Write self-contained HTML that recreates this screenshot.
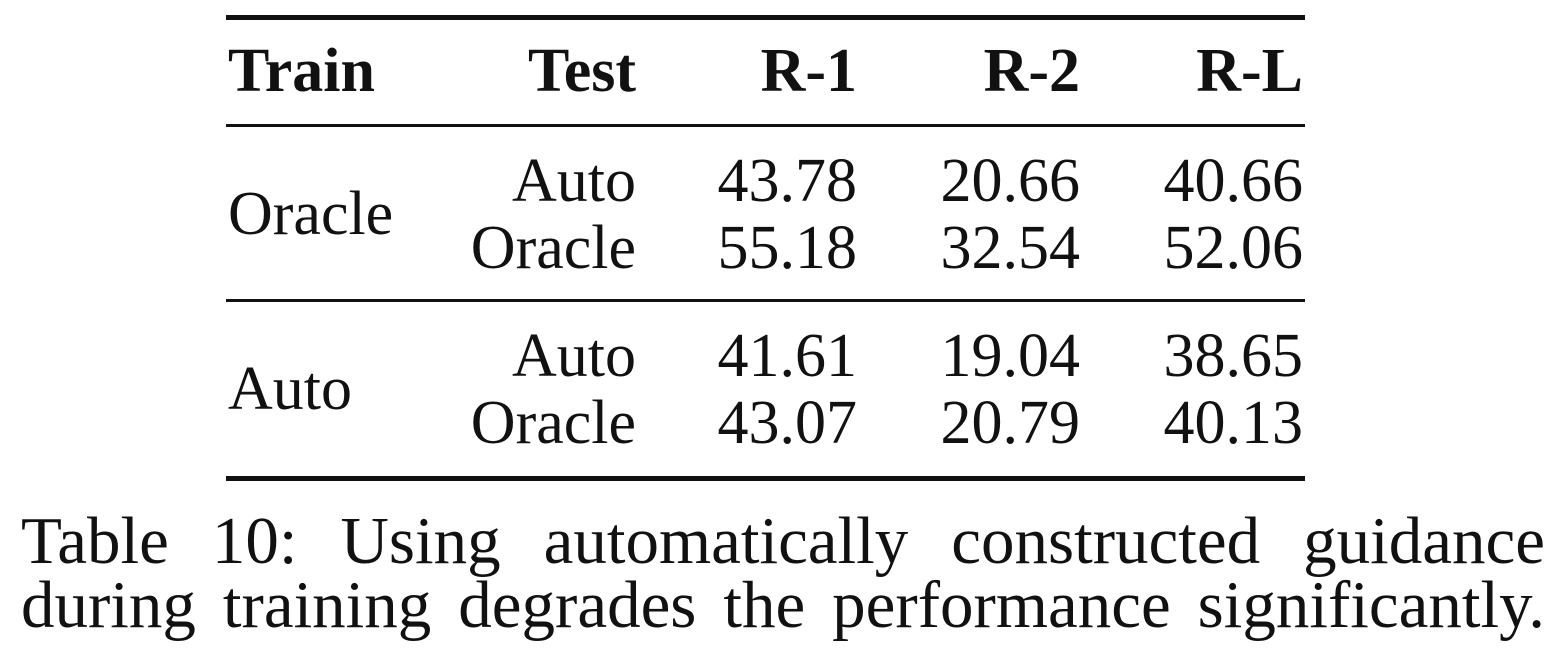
<!DOCTYPE html>
<html>
<head>
<meta charset="utf-8">
<style>
  html,body{margin:0;padding:0;background:#fff;}
  body{position:relative;width:1564px;height:668px;overflow:hidden;}
  svg{display:block;position:absolute;left:0;top:0;}
  text{font-family:"Liberation Serif","Times New Roman",serif;fill:#111;}
  .h{font-weight:bold;font-size:62px;}
  .c{font-size:62px;}
  .cap{position:absolute;left:21px;width:1524px;font-family:"Liberation Serif","Times New Roman",serif;font-size:67px;color:#111;white-space:nowrap;text-align:justify;text-align-last:justify;line-height:1;}
</style>
</head>
<body>
<svg width="1564" height="668" viewBox="0 0 1564 668">
  <rect x="226" y="15" width="1079" height="5" fill="#111"/>
  <rect x="226" y="124" width="1079" height="3" fill="#111"/>
  <rect x="226" y="299" width="1079" height="3" fill="#111"/>
  <rect x="226" y="476" width="1079" height="5" fill="#111"/>

  <g>
    <text class="h" x="228" y="91">Train</text>
    <text class="h" x="636" y="91" text-anchor="end">Test</text>
    <text class="h" x="857" y="91" text-anchor="end">R-1</text>
    <text class="h" x="1080" y="91" text-anchor="end">R-2</text>
    <text class="h" x="1303" y="91" text-anchor="end">R-L</text>
  </g>

  <text class="c" x="228" y="234">Oracle</text>
  <g>
    <text class="c" x="636" y="201" text-anchor="end">Auto</text>
    <text class="c" x="857" y="201" text-anchor="end">43.78</text>
    <text class="c" x="1080" y="201" text-anchor="end">20.66</text>
    <text class="c" x="1303" y="201" text-anchor="end">40.66</text>
  </g>
  <g>
    <text class="c" x="636" y="268" text-anchor="end">Oracle</text>
    <text class="c" x="857" y="268" text-anchor="end">55.18</text>
    <text class="c" x="1080" y="268" text-anchor="end">32.54</text>
    <text class="c" x="1303" y="268" text-anchor="end">52.06</text>
  </g>

  <text class="c" x="228" y="409">Auto</text>
  <g>
    <text class="c" x="636" y="376" text-anchor="end">Auto</text>
    <text class="c" x="857" y="376" text-anchor="end">41.61</text>
    <text class="c" x="1080" y="376" text-anchor="end">19.04</text>
    <text class="c" x="1303" y="376" text-anchor="end">38.65</text>
  </g>
  <g>
    <text class="c" x="636" y="443" text-anchor="end">Oracle</text>
    <text class="c" x="857" y="443" text-anchor="end">43.07</text>
    <text class="c" x="1080" y="443" text-anchor="end">20.79</text>
    <text class="c" x="1303" y="443" text-anchor="end">40.13</text>
  </g>
</svg>
<div class="cap" style="top:508px;">Table 10: Using automatically constructed guidance</div>
<div class="cap" style="top:572px;">during training degrades the performance significantly.</div>
</body>
</html>
